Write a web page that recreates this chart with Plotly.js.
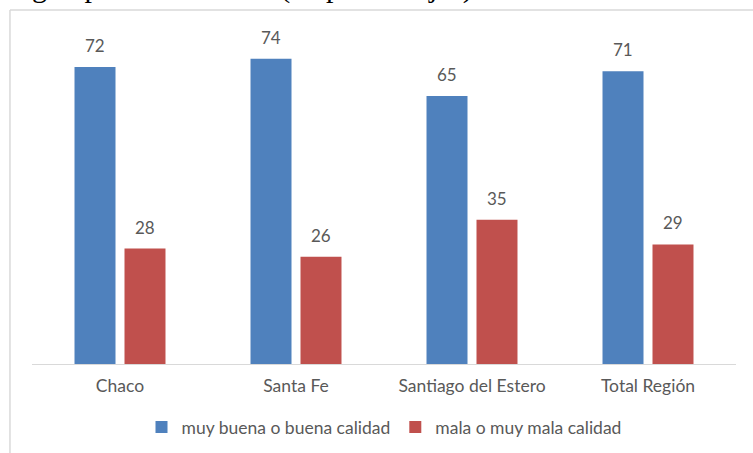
<!DOCTYPE html>
<html><head><meta charset="utf-8">
<script src="https://cdn.plot.ly/plotly-3.0.1.min.js"></script>
<style>html,body{margin:0;padding:0;background:#fff;overflow:hidden}#chart{width:753px;height:453px}</style>
</head><body><div id="chart"></div>
<script>
const categories = ["Chaco", "Santa Fe", "Santiago del Estero", "Total Región"];
const seriesNames = ["muy buena o buena calidad", "mala o muy mala calidad"];
const buena = [72, 74, 65, 71];
const mala = [28, 26, 35, 29];
const titleText = "según provincia. 2017 (en porcentajes)";

const FONT = "Lato, 'Open Sans', sans-serif";
const GRAY = "#595959";
const traces = [
  {type: "bar", name: seriesNames[0], x: categories, y: buena, marker: {color: "#4F81BD"}, hoverinfo: "none"},
  {type: "bar", name: seriesNames[1], x: categories, y: mala, marker: {color: "#C0504D"}, hoverinfo: "none"}
];
const annotations = [];
[buena, mala].forEach((vals, si) => {
  vals.forEach((v, i) => {
    annotations.push({x: categories[i], y: v, xref: "x", yref: "y", text: String(v), showarrow: false,
      xshift: si === 0 ? -25 : 25, yshift: 9, yanchor: "bottom",
      font: {family: FONT, size: 17, color: GRAY}});
  });
});
annotations.push({xref: "paper", yref: "paper", x: -0.038, y: 1.084, xanchor: "left", yanchor: "bottom",
  text: titleText, showarrow: false, font: {family: "'Liberation Serif', serif", size: 30, color: "#000"}});

const layout = {
  width: 753, height: 453,
  margin: {l: 32, r: 17, t: 34, b: 89, autoexpand: false},
  paper_bgcolor: "#fff", plot_bgcolor: "#fff",
  barmode: "group", bargap: 0.432, bargroupgap: 0.18,
  xaxis: {type: "category", showline: true, linecolor: "#d9d9d9", linewidth: 1, ticks: "",
    ticklabelstandoff: 6,
    tickfont: {family: FONT, size: 17.5, color: GRAY}, fixedrange: true},
  yaxis: {range: [0, 80], visible: false, showgrid: false, zeroline: false, fixedrange: true},
  showlegend: true,
  legend: {orientation: "h", x: 0.5, xanchor: "center", y: -0.191, yanchor: "middle",
    font: {family: FONT, size: 17.5, color: GRAY}, itemwidth: 30, tracegroupgap: 0},
  annotations: annotations,
  shapes: [
    {type: "line", xref: "paper", yref: "paper", x0: -0.0313, x1: -0.0313, y0: 1.0727, y1: -0.5,
      line: {color: "#d9d9d9", width: 1.5}},
    {type: "line", xref: "paper", yref: "paper", x0: -0.0313, x1: 1.2, y0: 1.0727, y1: 1.0727,
      line: {color: "#d9d9d9", width: 1.5}}
  ]
};
Plotly.newPlot("chart", traces, layout, {displayModeBar: false, staticPlot: true});
</script></body></html>
